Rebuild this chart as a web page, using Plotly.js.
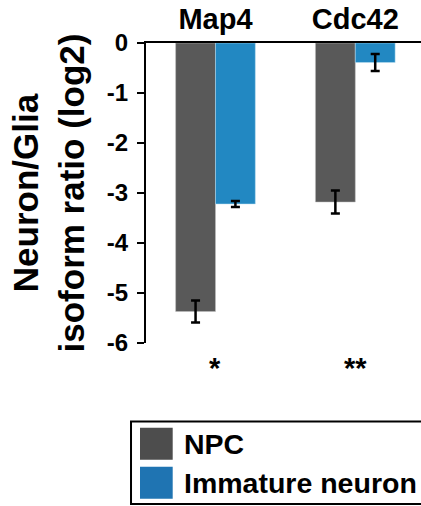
<!DOCTYPE html>
<html>
<head>
<meta charset="utf-8">
<script src="https://cdn.plot.ly/plotly-3.0.1.min.js"></script>
<style>html,body{margin:0;padding:0;background:#fff;}#chart{width:421px;height:506px;}</style>
</head>
<body>
<div id="chart"></div>
<script>
const categories = ['Map4', 'Cdc42'];
const seriesNames = ['NPC', 'Immature neuron'];
const npcValues = [-5.37, -3.18];
const npcErrors = [0.22, 0.23];
const neuronValues = [-3.22, -0.39];
const neuronErrors = [0.06, 0.17];
const significance = ['*', '**'];
const yTickVals = [0, -1, -2, -3, -4, -5, -6];
const yTickText = ['0', '-1', '-2', '-3', '-4', '-5', '-6'];

const FONT = '"Liberation Sans", Arial, sans-serif';
const GRAY = '#595959';
const BLUE = '#2288c2';

const traces = [
  {
    type: 'bar', name: seriesNames[0], x: categories, y: npcValues,
    marker: {color: GRAY, line: {color: '#bfbfbf', width: 0.5}},
    error_y: {type: 'data', array: npcErrors, visible: true, color: '#000', thickness: 2.5, width: 4.5},
    showlegend: false
  },
  {
    type: 'bar', name: seriesNames[1], x: categories, y: neuronValues,
    marker: {color: BLUE, line: {color: '#bfe0f2', width: 0.5}},
    error_y: {type: 'data', array: neuronErrors, visible: true, color: '#000', thickness: 2.5, width: 4.5},
    showlegend: false
  }
];

const annotations = categories.map((c, i) => ({
  x: c, xref: 'x', y: -0.082, yref: 'paper', text: '<b>' + significance[i] + '</b>',
  showarrow: false, xanchor: 'center', yanchor: 'middle',
  font: {family: FONT, size: 29, color: '#000'}
}));

// custom legend labels
const legendTextY = [-0.3357, -0.4657];
seriesNames.forEach((n, i) => {
  annotations.push({
    x: 0.1298, xref: 'paper', y: legendTextY[i], yref: 'paper', text: '<b>' + n + '</b>',
    showarrow: false, xanchor: 'left', yanchor: 'middle',
    font: {family: FONT, size: 28.5, color: '#000'}
  });
});

const shapes = [
  {type: 'rect', xref: 'paper', yref: 'paper', x0: -0.0545, x1: 1.02, y0: -0.2613, y1: -0.537,
   line: {color: '#000', width: 2}, fillcolor: 'rgba(0,0,0,0)'},
  {type: 'rect', xref: 'paper', yref: 'paper', x0: -0.0218, x1: 0.0971, y0: -0.2823, y1: -0.389,
   line: {width: 0}, fillcolor: '#4d4d4d'},
  {type: 'rect', xref: 'paper', yref: 'paper', x0: -0.0218, x1: 0.0971, y0: -0.4123, y1: -0.519,
   line: {width: 0}, fillcolor: '#1f74b2'}
];

const layout = {
  width: 421, height: 506,
  margin: {l: 146, r: 0, t: 43, b: 163, pad: 0},
  paper_bgcolor: '#fff', plot_bgcolor: '#fff',
  barmode: 'group', bargap: 0.43, bargroupgap: 0,
  showlegend: false,
  font: {family: FONT, color: '#000'},
  xaxis: {
    type: 'category', side: 'top', range: [-0.497, 1.47],
    showline: true, linecolor: '#000', linewidth: 2,
    ticks: '', showgrid: false, zeroline: false,
    tickfont: {family: FONT, size: 29, color: '#000', weight: 'bold'}
  },
  yaxis: {
    range: [-6, 0], showline: true, linecolor: '#000', linewidth: 2,
    ticks: 'outside', ticklen: 7, tickwidth: 2, tickcolor: '#000',
    tickmode: 'array', tickvals: yTickVals, ticktext: yTickText,
    ticklabelstandoff: 4,
    showgrid: false, zeroline: false,
    tickfont: {family: FONT, size: 24, color: '#000', weight: 'bold'},
    title: {text: '<b>Neuron/Glia<br>isoform ratio (log2)</b>', standoff: 12,
            font: {family: FONT, size: 35, color: '#000'}},
    automargin: false
  },
  annotations: annotations,
  shapes: shapes
};

Plotly.newPlot('chart', traces, layout, {displayModeBar: false, staticPlot: true});
</script>
</body>
</html>
